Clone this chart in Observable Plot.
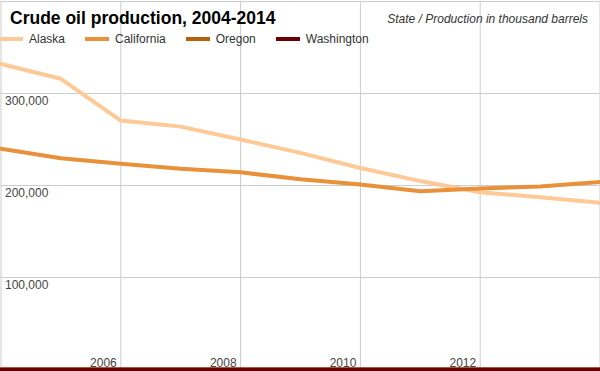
<!DOCTYPE html>
<html>
<head>
<meta charset="utf-8">
<script src="https://cdn.jsdelivr.net/npm/d3@7"></script>
<script src="https://cdn.jsdelivr.net/npm/@observablehq/plot@0.6"></script>
<style>
  html, body { margin: 0; padding: 0; background: #fff; }
  #wrap { position: relative; width: 600px; height: 371px; overflow: hidden; font-family: "Liberation Sans", Arial, sans-serif; }
  #chart svg { display: block; }
  #title { position: absolute; left: 10px; top: 8px; font-size: 17.5px; font-weight: bold; color: #000; white-space: nowrap; }
  #subtitle { position: absolute; right: 12px; top: 12px; font-size: 12px; font-style: italic; color: #333; white-space: nowrap; }
  #legend { position: absolute; left: 0; top: 32px; font-size: 12px; color: #333; white-space: nowrap; display: flex; }
  .item { display: flex; align-items: center; margin-right: 20px; }
  .sw { display: inline-block; width: 24px; height: 4px; margin-right: 6px; }
</style>
</head>
<body>
<div id="wrap">
  <div id="chart"></div>
  <div id="title"></div>
  <div id="subtitle"></div>
  <div id="legend"></div>
</div>
<script>
const titleText = "Crude oil production, 2004-2014";
const subtitleText = "State / Production in thousand barrels";
const years = [2004, 2005, 2006, 2007, 2008, 2009, 2010, 2011, 2012, 2013, 2014];
const seriesNames = ["Alaska", "California", "Oregon", "Washington"];
const seriesColors = ["#fdc997", "#e8903a", "#b5620e", "#6b0000"];
const alaska = [332000, 316000, 270600, 264000, 250000, 235500, 219000, 204800, 192700, 187300, 181200];
const california = [239900, 229700, 223600, 218300, 214300, 206800, 201000, 193800, 196700, 198900, 203800];
const oregon = [0, 0, 0, 0, 0, 0, 0, 0, 0, 0, 0];
const washington = [0, 0, 0, 0, 0, 0, 0, 0, 0, 0, 0];
const xGridYears = [2004, 2006, 2008, 2010, 2012, 2014];
const xTickLabels = [2006, 2008, 2010, 2012];
const yGridValues = [0, 100000, 200000, 300000, 400000];
const yTickLabels = [100000, 200000, 300000];

const seriesValues = [alaska, california, oregon, washington];
const rows = [];
seriesNames.forEach((name, i) => {
  years.forEach((yr, j) => rows.push({state: name, year: yr, value: seriesValues[i][j]}));
});

const fmt = d3.format(",");

const chart = Plot.plot({
  width: 600,
  height: 371,
  marginTop: 1,
  marginBottom: 2,
  marginLeft: 0.5,
  marginRight: 0.5,
  style: {fontFamily: "'Liberation Sans', Arial, sans-serif", fontSize: "12px", background: "#fff"},
  x: {domain: [2004, 2014], axis: null},
  y: {domain: [0, 400000], axis: null},
  color: {domain: seriesNames, range: seriesColors},
  marks: [
    Plot.ruleX(xGridYears, {x: d => d, stroke: "#cccccc", strokeWidth: 1}),
    Plot.ruleY(yGridValues, {y: d => d, stroke: "#cccccc", strokeWidth: 1}),
    Plot.text(yTickLabels, {x: 2004, y: d => d, text: d => fmt(d), textAnchor: "start", lineAnchor: "top", dx: 4, dy: 3, fill: "#444", fontSize: 12}),
    Plot.text(xTickLabels, {x: d => d, y: 0, text: d => String(d), textAnchor: "end", lineAnchor: "bottom", dx: -4, dy: -3, fill: "#444", fontSize: 12}),
    Plot.line(rows, {x: "year", y: "value", z: "state", stroke: "state", strokeWidth: 4, strokeLinejoin: "round", curve: "linear"})
  ]
});
document.getElementById("chart").appendChild(chart);

document.getElementById("title").textContent = titleText;
document.getElementById("subtitle").textContent = subtitleText;
const legend = document.getElementById("legend");
seriesNames.forEach((name, i) => {
  const item = document.createElement("div");
  item.className = "item";
  const sw = document.createElement("span");
  sw.className = "sw";
  sw.style.background = seriesColors[i];
  if (i === 0) sw.style.width = "23px";
  item.appendChild(sw);
  const t = document.createElement("span");
  t.textContent = name;
  item.appendChild(t);
  legend.appendChild(item);
});
</script>
</body>
</html>
